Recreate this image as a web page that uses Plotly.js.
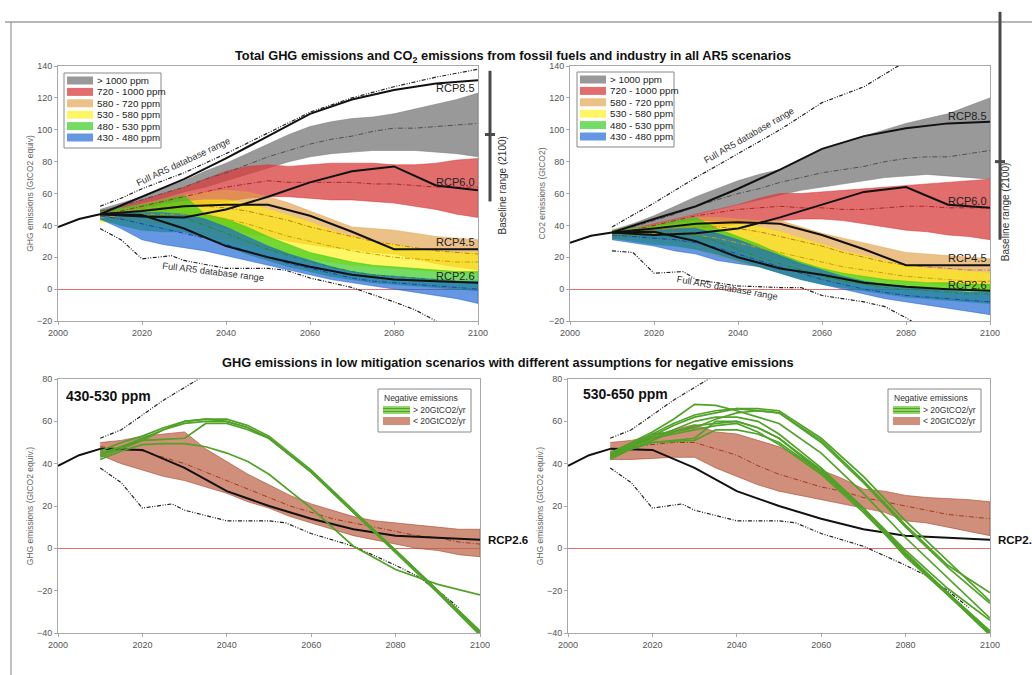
<!DOCTYPE html>
<html>
<head>
<meta charset="utf-8">
<script src="https://cdn.plot.ly/plotly-3.0.1.min.js"></script>
<style>
  html, body { margin: 0; padding: 0; background: #fff; }
  #chart { width: 1032px; height: 675px; }
</style>
</head>
<body>
<div id="chart"></div>
<script>
// ---------- shared year grids ----------
const years5 = [2010,2015,2020,2025,2030,2035,2040,2045,2050,2055,2060,2065,2070,2075,2080,2085,2090,2095,2100];
const years10 = [2010,2020,2030,2040,2050,2060,2070,2080,2090,2100];
const histYears = [2000,2005,2010];
const histGHG = [39,44,47];
const histCO2 = [29,33.5,35.5];

// concentration categories (2100)
const bandNames = ['&gt; 1000 ppm','720 - 1000 ppm','580 - 720 ppm','530 - 580 ppm','480 - 530 ppm','430 - 480 ppm'];

// ---------- total GHG emissions (GtCO2 equiv) ----------
const ghgGrayHi  = [50,54,58,63,68,74,79,85,91,97,102,105,107,108,110,113,116,119,123];
const ghgGrayLo  = [48,51,54,57,61,64,68,72,76,80,83,85,86,87,87,87,86,85,83];
const ghgGrayMid = [49,52,56,60,64,69,73,78,83,87,91,94,96,99,101,101,102,103,104];
const ghgRedHi   = [49,52,56,60,64,69,74,77,78,77,78,79,79,79,78,78,79,81,82];
const ghgRedLo   = [45,46,47,49,51,53,55,57,58,58,57,56,56,55,54,52,50,47,45];
const ghgRedMid  = [47,49,52,55,58,61,64,66,68,67,67,67,67,66,66,65,64,64,64];
const ghgTanHi   = [48,50,53,56,59,61,62,61,58,54,49,44,39,38,37,35,33,32,31];
const ghgTanLo   = [43,44,45,45,44,41,38,35,33,30,28,26,25,23,22,19,16,14,12];
const ghgTanMid  = [46,48,50,51,52,52,51,49,46,43,39,36,33,30,28,26,24,23,22];
const ghgYelHi   = [47,49,50,53,55,56,56,54,50,46,42,37,33,30,28,26,24,23,23];
const ghgYelLo   = [42,42,42,40,38,34,30,27,24,21,19,17,15,14,13,12,11,10,10];
const ghgYelMid  = [45,46,47,47,47,46,44,41,37,33,30,27,24,22,20,19,18,17,17];
const ghgGrnHi   = [49,51,53,56,59,47,44,39,33,28,23,20,17,15,14,13,12,11,11];
const ghgGrnLo   = [44,40,37,36,36,32,27,22,18,14,11,8,6,4,3,2,1,0,-1];
const ghgGrnMid  = [47,46,46,46,45,40,35,30,25,21,17,14,11,9,8,7,6,5,4];
const ghgBluHi   = [48,48,48,48,47,44,39,33,27,22,18,14,11,9,8,7,6,5,5];
const ghgBluLo   = [44,38,31,28,26,24,21,18,15,12,9,6,4,2,0,-2,-4,-6,-9];
const ghgBluMid  = [46,44,41,38,35,32,28,24,20,16,13,10,7,5,4,3,2,1,0];

const ghgRcp85 = [47,58,69,82,96,110,119,125,129,131];
const ghgRcp60 = [47,45.5,45,50,58,67,74,77,65,62];
const ghgRcp45 = [47,49,52,53,53,46,36,25,25,25];
const ghgRcp26 = [47,46.5,38,27,20,14,9,6,5,4];

const ghgRangeHiYears = [2010,2015,2020,2030,2040,2050,2060,2070,2080,2090,2100];
const ghgRangeHi      = [52,57,63,73,85,98,111,120,127,133,138];
const ghgRangeLoYears = [2010,2015,2020,2027,2030,2040,2050,2054,2060,2070,2080,2085,2090,2095];
const ghgRangeLo      = [38,31,19,21,18,13,13,12,7,1,-8,-13,-20,-28];

const ghgBaseline = [55,97,137];   // 2100 baseline: min, median, max

// ---------- CO2 from fossil fuels and industry (GtCO2) ----------
const co2GrayHi  = [37,41,46,52,58,63,68,72,75,81,88,92,96,100,104,107,110,115,120];
const co2GrayLo  = [35,38,41,44,47,50,53,56,59,62,64,66,68,70,71,72,71,70,69];
const co2GrayMid = [36,39,43,47,52,56,60,63,67,70,73,75,77,80,82,83,83,85,87];
const co2RedHi   = [36,38,41,44,47,50,53,57,60,60,61,62,63,64,65,66,67,68,69];
const co2RedLo   = [33,34,35,36,38,39,41,42,43,44,44,43,41,39,37,36,34,33,31];
const co2RedMid  = [35,37,40,43,46,48,50,51,52,51,51,50,50,51,52,52,51,51,51];
const co2TanHi   = [37,38,40,43,45,45,44,43,43,39,35,32,29,26,23,22,21,20,19];
const co2TanLo   = [32,33,33,32,31,28,24,21,18,15,13,10,8,6,5,4,3,2,2];
const co2TanMid  = [35,36,37,38,39,39,38,36,33,30,27,23,20,17,15,14,13,12,12];
const co2YelHi   = [36,37,39,41,43,42,41,39,36,32,28,24,21,18,15,13,12,11,10];
const co2YelLo   = [31,31,30,28,25,21,17,14,11,8,6,4,3,2,1,0,0,-1,-1];
const co2YelMid  = [34,34,35,35,34,32,29,26,23,20,17,14,12,10,8,7,6,5,5];
const co2GrnHi   = [37,38,40,43,45,38,33,28,22,17,13,10,8,6,5,4,4,3,3];
const co2GrnLo   = [32,30,28,27,25,22,18,14,10,6,3,1,-1,-3,-5,-6,-7,-8,-9];
const co2GrnMid  = [35,34,34,34,34,30,25,20,16,12,8,5,3,1,0,-1,-2,-3,-3];
const co2BluHi   = [36,37,37,38,38,35,31,26,21,16,12,8,5,3,1,0,-1,-2,-2];
const co2BluLo   = [31,29,27,24,22,18,16,14,10,6,3,0,-3,-6,-8,-10,-12,-14,-16];
const co2BluMid  = [34,33,32,31,29,26,22,18,14,10,6,3,0,-2,-4,-5,-6,-7,-8];

const co2Rcp85 = [35.5,44,52,63,75,88,96,101,104,105];
const co2Rcp60 = [35.5,34,35,38,45,53,61,64,53,51];
const co2Rcp45 = [35.5,38,41,42,41,34,25,15,15,15];
const co2Rcp26 = [35.5,36,30,20,13,9,4,1.5,0,-1];

const co2RangeHiYears = [2010,2020,2030,2040,2050,2060,2070,2080];
const co2RangeHi      = [39,54,70,85,100,117,127,143];
const co2RangeLoYears = [2010,2015,2020,2027,2030,2040,2050,2055,2060,2070,2075,2080,2085];
const co2RangeLo      = [24,23,10,11,6,2,1,1,-4,-8,-11,-18,-26];

const co2Baseline = [31,80,174];

// ---------- low mitigation scenarios (GtCO2 equiv) ----------
const lowRangeHiYears = [2010,2015,2020,2025,2030,2035];
const lowRangeHi      = [52,56,63,70,76,82];

// 430-530 ppm, scenarios with < 20 GtCO2/yr negative emissions
const lowBrownHi  = [50,51,53,54,55,47,41,35,30,25,21,18,15,13,12,11,10,9,9];
const lowBrownLo  = [44,40,37,34,32,29,26,22,19,15,12,9,6,4,2,0,-1,-3,-4];
const lowBrownMid = [48,47,46,43,40,36,32,28,24,20,17,14,12,10,8,6,5,3,2];
// 530-650 ppm
const midBrownHi  = [50,51,53,56,58.5,55,54,51,48,43,37,33,28,27,25,24,23.5,23,22];
const midBrownLo  = [42,42,42.5,43,43,38,34,30,27,25,23,21,19,17,13,12,10,8,6];
const midBrownMid = [47,48,49,50,50,47,44,39,35,32,29,27,24,22,20,18,16,15,14];

// scenarios with > 20 GtCO2/yr negative emissions
const negYears = [2010,2015,2020,2025,2030,2035,2040,2045,2050,2060,2070,2080,2090,2100];
const lowNeg1 = [43,47,51,56,60,61,61,58,53,37,18,-1,-20,-40];
const lowNeg2 = [44,48,52,56,59,60,60,57,52,36,17,-2,-21,-41];
const lowNeg3 = [46,50,53,57,60,61,60,57,52,36,17,-1,-20,-39];
const lowNeg4 = [45,48,51,51.5,52,59,59,56,52,36,17,-1,-20,-40];
const lowNeg5 = [42,46,49,49.5,49.5,48,45,41,35,19,1,-10,-17,-22];
const midNeg1 = [43,48,53,58,62,64,66,66,65,52,34,13,-6,-25];
const midNeg2 = [44,49,54,59,63,65,66,65,64,50,31,10,-9,-26];
const midNeg3 = [45,50,55,61,68,67.5,65,62,59,45,26,5,-14,-33];
const midNeg4 = [44,48,52,56,60,62,62,60,54,38,19,-3,-22,-41];
const midNeg5 = [42,47,51,55,58,59,60,57,52,36,18,-4,-22,-40];
const midNeg6 = [43,47,50,51,52,60,60,57,52,37,19,-2,-21,-40];
const midNeg7 = [44,47,50,50.5,51,56,56,54,50,36,19,-1,-19,-34];
const midNeg8 = [45,49,52,54,56,58,59,55,49,35,17,-3,-21,-39];
const midNeg9 = [43,49,54,55,57,61,64,65,64,51,32,11,-8,-21];

// ---------- styling ----------
const W = 1032, H = 675;
const FONT = 'Liberation Sans, Arial, sans-serif';
const bandFill = ['rgba(128,128,128,0.8)','rgba(215,60,60,0.75)','rgba(225,160,70,0.65)',
                  'rgba(255,240,0,0.6)','rgba(40,200,20,0.65)','rgba(20,95,210,0.65)'];
const bandMid  = ['#505050','#a82828','#c07a20','#c8a000','#2a8a20','#2040b0'];
const brownFill = 'rgba(190,100,70,0.72)';
const negGreen = 'rgb(80,162,40)';
const rangeDash = '4px,1.5px,1px,1.5px,1px,1.5px';
const midDash = '5px,2px,1px,2px';

const px = v => v / W;
const py = v => 1 - v / H;

const traces = [];
function band(ax, years, lo, hi, color, edge) {
  traces.push({
    x: years.concat(years.slice().reverse()),
    y: hi.concat(lo.slice().reverse()),
    xaxis: 'x' + ax, yaxis: 'y' + ax,
    mode: 'lines', fill: 'toself', fillcolor: color,
    line: {width: 0.7, color: edge || color}, hoverinfo: 'skip'
  });
}
function line(ax, years, vals, color, width, dash) {
  traces.push({
    x: years, y: vals, xaxis: 'x' + ax, yaxis: 'y' + ax,
    mode: 'lines', line: {color: color, width: width, dash: dash || 'solid'},
    hoverinfo: 'skip'
  });
}

const ghgBands = [[ghgGrayLo,ghgGrayHi,ghgGrayMid],[ghgRedLo,ghgRedHi,ghgRedMid],[ghgTanLo,ghgTanHi,ghgTanMid],
                  [ghgYelLo,ghgYelHi,ghgYelMid],[ghgGrnLo,ghgGrnHi,ghgGrnMid],[ghgBluLo,ghgBluHi,ghgBluMid]];
const co2Bands = [[co2GrayLo,co2GrayHi,co2GrayMid],[co2RedLo,co2RedHi,co2RedMid],[co2TanLo,co2TanHi,co2TanMid],
                  [co2YelLo,co2YelHi,co2YelMid],[co2GrnLo,co2GrnHi,co2GrnMid],[co2BluLo,co2BluHi,co2BluMid]];

function topPanel(ax, bands, hist, rcps, hiYears, hi, loYears, lo) {
  bands.forEach((b, i) => band(ax, years5, b[0], b[1], bandFill[i]));
  bands.forEach((b, i) => line(ax, years5, b[2], bandMid[i], 1, midDash));
  line(ax, hiYears, hi, '#222', 1.2, rangeDash);
  line(ax, loYears, lo, '#222', 1.2, rangeDash);
  line(ax, histYears, hist, '#111', 2);
  rcps.forEach(r => line(ax, years10, r, '#111', 2));
}
topPanel('', ghgBands, histGHG, [ghgRcp85, ghgRcp60, ghgRcp45, ghgRcp26],
         ghgRangeHiYears, ghgRangeHi, ghgRangeLoYears, ghgRangeLo);
topPanel('2', co2Bands, histCO2, [co2Rcp85, co2Rcp60, co2Rcp45, co2Rcp26],
         co2RangeHiYears, co2RangeHi, co2RangeLoYears, co2RangeLo);

function lowPanel(ax, bHi, bLo, bMid, negs) {
  band(ax, years5, bLo, bHi, brownFill, 'rgba(170,75,45,0.9)');
  line(ax, years5, bMid, '#a03a20', 1, midDash);
  line(ax, lowRangeHiYears, lowRangeHi, '#222', 1.2, rangeDash);
  line(ax, ghgRangeLoYears, ghgRangeLo, '#222', 1.2, rangeDash);
  line(ax, histYears, histGHG, '#111', 2);
  line(ax, years10, ghgRcp26, '#111', 2);
  negs.forEach(n => line(ax, negYears, n, negGreen, 1.7));
}
lowPanel('3', lowBrownHi, lowBrownLo, lowBrownMid, [lowNeg1, lowNeg2, lowNeg3, lowNeg4, lowNeg5]);
lowPanel('4', midBrownHi, midBrownLo, midBrownMid,
         [midNeg1, midNeg2, midNeg3, midNeg4, midNeg5, midNeg6, midNeg7, midNeg8, midNeg9]);

// ---------- axes ----------
function axX(domain, anchor) {
  return {domain: domain, anchor: anchor, range: [2000, 2100], tickvals: [2000,2020,2040,2060,2080,2100],
          showgrid: false, zeroline: false, showline: true, mirror: true, linecolor: '#a8a8a8', linewidth: 1,
          ticks: 'outside', ticklen: 3, tickcolor: '#a8a8a8', tickfont: {size: 9, color: '#555', family: FONT}};
}
function axY(domain, anchor, range, dtick, title) {
  return {domain: domain, anchor: anchor, range: range, dtick: dtick, tick0: 0,
          showgrid: false, zeroline: true, zerolinecolor: '#e07070', zerolinewidth: 1,
          showline: true, mirror: true, linecolor: '#a8a8a8', linewidth: 1,
          ticks: 'outside', ticklen: 3, tickcolor: '#a8a8a8', tickfont: {size: 9, color: '#555', family: FONT},
          title: {text: title, font: {size: 8.5, color: '#666', family: FONT}, standoff: 1}};
}
const topY = [py(321), py(66)], botY = [py(633), py(379)];
const layout = {
  width: W, height: H, margin: {l: 0, r: 0, t: 0, b: 0},
  paper_bgcolor: '#fff', plot_bgcolor: '#fff', showlegend: false,
  font: {family: FONT},
  xaxis:  axX([px(58), px(478)], 'y'),
  yaxis:  axY(topY, 'x', [-20, 140], 20, 'GHG emissions (GtCO2 equiv)'),
  xaxis2: axX([px(570), px(990)], 'y2'),
  yaxis2: axY(topY, 'x2', [-20, 140], 20, 'CO2 emissions (GtCO2)'),
  xaxis3: axX([px(58), px(480)], 'y3'),
  yaxis3: axY(botY, 'x3', [-40, 80], 20, 'GHG emissions (GtCO2 equiv.)'),
  xaxis4: axX([px(568), px(990)], 'y4'),
  yaxis4: axY(botY, 'x4', [-40, 80], 20, 'GHG emissions (GtCO2 equiv.)'),
  shapes: [], annotations: []
};
const S = layout.shapes, A = layout.annotations;

// page frame
S.push({type: 'line', xref: 'paper', yref: 'paper', x0: px(5), x1: 1, y0: py(22), y1: py(22), line: {color: '#a0a0a0', width: 1.5}});
S.push({type: 'line', xref: 'paper', yref: 'paper', x0: px(11), x1: px(11), y0: py(22), y1: 0, line: {color: '#808080', width: 1}});

// titles
A.push({xref: 'paper', yref: 'paper', x: px(513), y: py(46), showarrow: false,
        text: '<b>Total GHG emissions and CO<sub>2</sub> emissions from fossil fuels and industry in all AR5 scenarios</b>',
        font: {size: 12.8, color: '#111', family: FONT}});
A.push({xref: 'paper', yref: 'paper', x: px(508), y: py(362), showarrow: false,
        text: '<b>GHG emissions in low mitigation scenarios with different assumptions for negative emissions</b>',
        font: {size: 12.8, color: '#111', family: FONT}});

// baseline range bars (2100), placed right of each top panel
function yPaper(v, dom, rng) { return dom[0] + (v - rng[0]) / (rng[1] - rng[0]) * (dom[1] - dom[0]); }
function baselineBar(xPx, vals) {
  const y0 = yPaper(vals[0], topY, [-20, 140]), ym = yPaper(vals[1], topY, [-20, 140]), y1 = yPaper(vals[2], topY, [-20, 140]);
  S.push({type: 'line', xref: 'paper', yref: 'paper', x0: px(xPx), x1: px(xPx), y0: y0, y1: y1, line: {color: '#4a4a4a', width: 3}});
  S.push({type: 'line', xref: 'paper', yref: 'paper', x0: px(xPx - 5), x1: px(xPx + 5), y0: ym, y1: ym, line: {color: '#4a4a4a', width: 3}});
  A.push({xref: 'paper', yref: 'paper', x: px(xPx + 13), y: ym, showarrow: false, textangle: -90,
          text: 'Baseline range (2100)', font: {size: 10, color: '#333', family: FONT}});
}
baselineBar(490, ghgBaseline);
baselineBar(1000, co2Baseline);

// concentration legends for the top panels
function bandLegend(x0, y0) {
  S.push({type: 'rect', xref: 'paper', yref: 'paper', x0: px(x0), x1: px(x0 + 97), y0: py(y0), y1: py(y0 + 75),
          line: {color: '#888', width: 1}, fillcolor: '#fff'});
  bandNames.forEach((name, i) => {
    const yc = y0 + 7.5 + i * 11.4;
    S.push({type: 'rect', xref: 'paper', yref: 'paper', x0: px(x0 + 3), x1: px(x0 + 29), y0: py(yc - 4), y1: py(yc + 4),
            line: {width: 0}, fillcolor: bandFill[i]});
    A.push({xref: 'paper', yref: 'paper', x: px(x0 + 31), y: py(yc), xanchor: 'left', yanchor: 'middle',
            showarrow: false, text: name, font: {size: 9.8, color: '#222', family: FONT}});
  });
}
bandLegend(64, 73);
bandLegend(577, 72);

// RCP labels at 2100
function rcpLabel(ax, name, val, shift) {
  A.push({xref: 'x' + ax, yref: 'y' + ax, x: 2100, y: val, xanchor: 'right', yanchor: 'middle',
          yshift: shift, xshift: -1, showarrow: false, text: name, font: {size: 11, color: '#222', family: FONT}});
}
rcpLabel('', 'RCP8.5', ghgRcp85[9], -8);
rcpLabel('', 'RCP6.0', ghgRcp60[9], 8);
rcpLabel('', 'RCP4.5', ghgRcp45[9], 7);
rcpLabel('', 'RCP2.6', ghgRcp26[9], 7);
rcpLabel('2', 'RCP8.5', co2Rcp85[9], 6);
rcpLabel('2', 'RCP6.0', co2Rcp60[9], 7);
rcpLabel('2', 'RCP4.5', co2Rcp45[9], 7);
rcpLabel('2', 'RCP2.6', co2Rcp26[9], 6);

// database range labels
function rangeLabel(ax, x, y, angle) {
  A.push({xref: 'x' + ax, yref: 'y' + ax, x: x, y: y, showarrow: false, textangle: angle,
          text: 'Full AR5 database range', font: {size: 9.3, color: '#333', family: FONT}});
}
rangeLabel('', 2029.8, 80, -25);
rangeLabel('', 2037, 10.5, 7);
rangeLabel('2', 2042.5, 96, -30);
rangeLabel('2', 2037.4, 0.5, 10);

// bottom panels: category labels, RCP2.6 tags, negative-emission legends
A.push({xref: 'paper', yref: 'paper', x: px(64), y: py(396), xanchor: 'left', showarrow: false,
        text: '<b>430-530 ppm</b>', font: {size: 14, color: '#111', family: FONT}});
A.push({xref: 'paper', yref: 'paper', x: px(581), y: py(394), xanchor: 'left', showarrow: false,
        text: '<b>530-650 ppm</b>', font: {size: 14, color: '#111', family: FONT}});
['3', '4'].forEach(ax => {
  A.push({xref: 'x' + ax, yref: 'y' + ax, x: 2100, y: ghgRcp26[9], xanchor: 'left', xshift: 6, showarrow: false,
          text: '<b>RCP2.6</b>', font: {size: 11.5, color: '#111', family: FONT}});
});
function negLegend(x0, y0) {
  S.push({type: 'rect', xref: 'paper', yref: 'paper', x0: px(x0), x1: px(x0 + 93), y0: py(y0), y1: py(y0 + 43),
          line: {color: '#888', width: 1}, fillcolor: '#fff'});
  A.push({xref: 'paper', yref: 'paper', x: px(x0 + 4), y: py(y0 + 9), xanchor: 'left', showarrow: false,
          text: 'Negative emissions', font: {size: 8.5, color: '#333', family: FONT}});
  S.push({type: 'rect', xref: 'paper', yref: 'paper', x0: px(x0 + 5), x1: px(x0 + 32), y0: py(y0 + 17), y1: py(y0 + 25),
          line: {width: 0}, fillcolor: 'rgb(150,215,110)'});
  [19.5, 22.5].forEach(d => S.push({type: 'line', xref: 'paper', yref: 'paper', x0: px(x0 + 5), x1: px(x0 + 32),
          y0: py(y0 + d), y1: py(y0 + d), line: {color: negGreen, width: 1.2}}));
  A.push({xref: 'paper', yref: 'paper', x: px(x0 + 33), y: py(y0 + 21), xanchor: 'left', showarrow: false,
          text: '&gt; 20GtCO2/yr', font: {size: 8.5, color: '#333', family: FONT}});
  S.push({type: 'rect', xref: 'paper', yref: 'paper', x0: px(x0 + 5), x1: px(x0 + 32), y0: py(y0 + 28), y1: py(y0 + 36),
          line: {width: 0}, fillcolor: brownFill});
  A.push({xref: 'paper', yref: 'paper', x: px(x0 + 33), y: py(y0 + 32), xanchor: 'left', showarrow: false,
          text: '&lt; 20GtCO2/yr', font: {size: 8.5, color: '#333', family: FONT}});
}
negLegend(378, 389);
negLegend(888, 389);

Plotly.newPlot('chart', traces, layout, {staticPlot: true, displayModeBar: false});
</script>
</body>
</html>
